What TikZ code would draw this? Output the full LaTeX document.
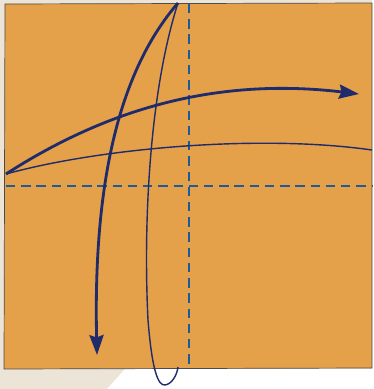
\documentclass[tikz,border=0pt]{standalone}
\usepackage{tikz}
\usetikzlibrary{arrows.meta}
\definecolor{paperc}{HTML}{E5A04A}
\definecolor{bgc}{HTML}{EDE4D8}
\definecolor{foldc}{HTML}{1D5C9A}
\definecolor{arrc}{HTML}{1F2B6B}
\tikzset{
  ar/.style={-{Stealth[length=17pt,width=12pt,inset=2pt]},line width=2.4pt,arrc},
  turn/.style={line width=1.2pt,arrc},
  valley/.style={dash pattern=on 8pt off 5pt,line width=2.5pt,foldc}
}

\begin{document}
\begin{tikzpicture}[x=0.03cm,y=-0.03cm]
\fill[bgc] (0,0) rectangle (372,389);
\fill[white] (125,369) -- (372,369) -- (372,389) -- (107,389) -- cycle;
% paper
\filldraw[fill=paperc,draw=black!70,line width=0.6pt] (5,4) -- (372,3) -- (372,368) -- (4,369) -- cycle;
\coordinate (apex) at (178,3);
\coordinate (lpt) at (6,174);
\coordinate (vtop) at (189,4);
\coordinate (vbot) at (189,368);
\coordinate (hl) at (6,186);
\coordinate (hr) at (372,186);
\coordinate (redge) at (372,150);
\coordinate (bedge) at (178,367);
\coordinate (downtip) at (97,355);
\coordinate (righttip) at (359,94);
% folds
\draw[valley] (vtop) -- (vbot);
\draw[valley] (hl) -- (hr);
% thin turns
\draw[turn] (apex) .. controls (150,90) and (143,220) .. (148,320)
  .. controls (152,370) and (158,386) .. (165,385)
  .. controls (172,384) and (177,375) .. (bedge);
\draw[turn] (lpt) .. controls (100,148) and (260,134) .. (redge);
% arrows
\draw[ar] (apex) .. controls (120,70) and (93,180) .. (downtip);
\draw[ar] (lpt) .. controls (90,120) and (200,75) .. (righttip);
\end{tikzpicture}
\end{document}
